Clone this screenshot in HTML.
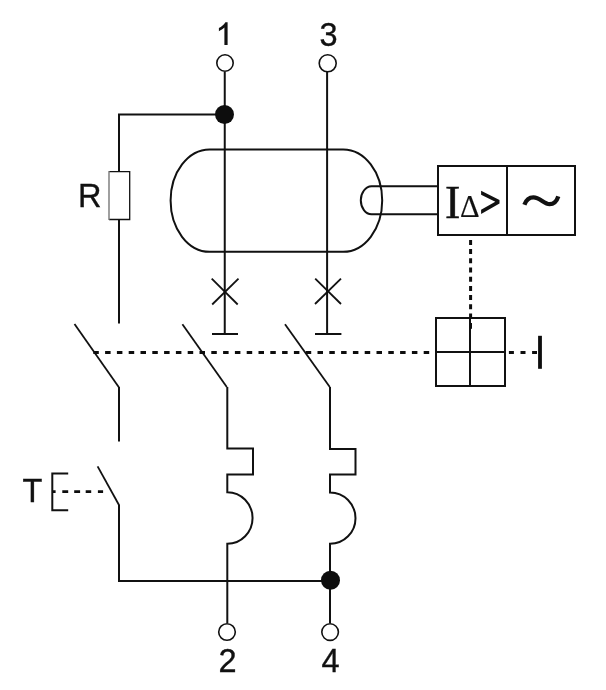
<!DOCTYPE html>
<html><head><meta charset="utf-8">
<style>
html,body{margin:0;padding:0;background:#fff;width:606px;height:690px;overflow:hidden}
svg{display:block}
text{font-family:"Liberation Sans",sans-serif;fill:#111}
.s{font-family:"Liberation Serif",serif}
</style></head><body>
<svg width="606" height="690" viewBox="0 0 606 690">
<g fill="none" stroke="#111" stroke-width="2">
  <!-- top wires -->
  <line x1="224.75" y1="72" x2="224.75" y2="334"/>
  <line x1="327.1" y1="72" x2="327.1" y2="334"/>
  <!-- R branch -->
  <polyline points="119,323.5 119,114.5 224.75,114.5"/>
  <!-- tube -->
  <path d="M209.6,149.4 H343.2 A39,51.2 0 0 1 343.2,251.8 H209.6 A39,51.2 0 0 1 209.6,149.4 Z"/>
  <!-- inner capsule -->
  <path d="M438,186.25 H371.5 A11,14.03 0 0 0 371.5,214.3 H438"/>
  <!-- crosses -->
  <line x1="211.7" y1="278.6" x2="237.7" y2="304.5" stroke-width="1.8"/>
  <line x1="238.5" y1="278.6" x2="212.2" y2="304.5" stroke-width="1.8"/>
  <line x1="315.2" y1="278.6" x2="341" y2="304" stroke-width="1.8"/>
  <line x1="341" y1="278.6" x2="315" y2="304" stroke-width="1.8"/>
  <!-- T bars -->
  <line x1="212" y1="334" x2="238" y2="334"/>
  <line x1="315" y1="334" x2="341.4" y2="334"/>
  <!-- blades -->
  <line x1="74.5" y1="323.9" x2="118.7" y2="387" stroke-width="1.8"/>
  <line x1="182.4" y1="324.3" x2="226.8" y2="387" stroke-width="1.8"/>
  <line x1="285" y1="324.3" x2="329.8" y2="387" stroke-width="1.8"/>
  <!-- col1 lower -->
  <line x1="119" y1="386.8" x2="119" y2="441.4"/>
  <line x1="97.6" y1="466.4" x2="119" y2="505" stroke-width="1.8"/>
  <polyline points="119,504.6 119,581 330,581"/>
  <!-- col2 lower -->
  <path d="M227.3,387 V448.6 H253 V474.5 H227.3 V492.2 A25.3,25.8 0 0 1 227.3,543.8 V623"/>
  <!-- col3 lower -->
  <path d="M330,387 V449 H355.5 V474.6 H330 V492.5 A25.5,25.65 0 0 1 330,543.8 V623"/>
  <!-- T bracket -->
  <polyline points="68.2,473.6 52.3,473.6 52.3,510.2 68.2,510.2"/>
  <!-- box -->
  <rect x="438" y="166" width="137" height="69"/>
  <line x1="507" y1="166" x2="507" y2="235"/>
  <!-- 4-cell box -->
  <rect x="436" y="318" width="69" height="68"/>
  <line x1="436" y1="352" x2="505" y2="352"/>
  <line x1="470" y1="318" x2="470" y2="386"/>
</g>
<!-- resistor -->
<rect x="109.2" y="171.5" width="20.5" height="48" fill="#fff" stroke="none"/>
<path d="M109,171.6 H129.7 V219.5 H109" fill="none" stroke="#111" stroke-width="1.3"/>
<line x1="109" y1="171" x2="109" y2="220.1" stroke="#777" stroke-width="1.4"/>
<!-- dashed -->
<g stroke="#0d0d0d" stroke-width="3" fill="none">
  <line x1="93.3" y1="352.4" x2="429.2" y2="352.4" stroke-dasharray="5.5 6.3"/>
  <line x1="508.9" y1="352.5" x2="537" y2="352.5" stroke-dasharray="5 6.6"/>
  <line x1="470.6" y1="239.9" x2="470.6" y2="317" stroke-dasharray="5 4.2"/>
  <path d="M53,491.6 H55.6 M62.3,491.6 H68.2 M74.2,491.6 H80.1 M85.7,491.6 H91.2 M97.9,491.6 H103.1" stroke-width="2.8"/>
  <rect x="470.2" y="323" width="1.8" height="5.8" fill="#0d0d0d" stroke="none"/>
</g>
<rect x="538.1" y="335.8" width="3.8" height="33" fill="#0d0d0d"/>
<!-- dots -->
<circle cx="224.5" cy="114.5" r="9.5" fill="#0d0d0d"/>
<circle cx="330.5" cy="580.3" r="9.5" fill="#0d0d0d"/>
<!-- terminals -->
<g fill="#fff" stroke="#111" stroke-width="1.6">
  <circle cx="225" cy="63" r="8.2"/>
  <circle cx="327.7" cy="63.3" r="8.5"/>
  <circle cx="227" cy="632" r="8.3"/>
  <circle cx="330.1" cy="632.1" r="8.3"/>
</g>
<!-- tilde -->
<path d="M524.4,204.8 C526.2,199.8 529.4,197.4 533.4,197.4 C540,197.4 544,204.2 549.6,204.2 C554,204.2 556.8,201 558.3,196.4" fill="none" stroke="#111" stroke-width="4.3"/>
<!-- greater-than -->
<polygon points="481.1,190.8 499.5,200.0 499.5,203.6 481.1,213.9 481.1,209.8 495.3,201.8 481.1,194.8" fill="#111"/>
<!-- one -->
<path d="M224.4,45 H227.6 V22.2 H225.4 C224,24.6 221.5,26.6 218.9,28.1 V31.2 C221,30.2 223,28.9 224.4,27.6 Z" fill="#111"/>
<!-- texts -->
<g filter="url(#gs)" stroke="#111" stroke-width="0.35">
<text x="328.5" y="45.6" font-size="32.5" text-anchor="middle">3</text>
<text x="227.6" y="671.6" font-size="32.5" text-anchor="middle">2</text>
<text x="330.6" y="671.6" font-size="32.5" text-anchor="middle">4</text>
<text x="77.9" y="207.3" font-size="32.5">R</text>
<text x="22.5" y="502" font-size="32.5">T</text>
<text class="s" x="444.9" y="217.6" font-size="46" stroke-width="0.5">I</text>
<text class="s" x="460.1" y="217.1" font-size="30.5" stroke-width="0.15">Δ</text>
</g>
<defs><filter id="gs" x="0" y="0" width="606" height="690" filterUnits="userSpaceOnUse"><feColorMatrix type="identity"/></filter></defs>
</svg>
</body></html>
